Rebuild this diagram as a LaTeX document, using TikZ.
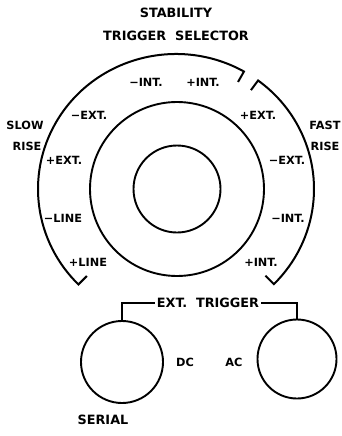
\documentclass[tikz,border=0pt]{standalone}
\usepackage{fontspec}
\setmainfont{DejaVu Sans}
\begin{document}
\begin{tikzpicture}[x=1pt,y=1pt,
	lbl/.style={font=\bfseries\fontsize{11.3}{13}\selectfont,inner sep=1pt},
	head/.style={font=\bfseries\fontsize{12.8}{15}\selectfont,inner sep=1pt},
	knob/.style={circle,draw,line width=1.9pt,inner sep=0pt},
	scalearc/.style={line width=2pt}]
	\useasboundingbox (0,0) rectangle (341,-436);
	% title
	\node [head] (stab) at (176,-13) {STABILITY};
	\node [head] (sel) at (176,-36) {TRIGGER~~SELECTOR};
	% main knob
	\node [knob,minimum size=87pt] (inner) at (177,-189) {};
	\node [knob,minimum size=174pt] (outer) at (177,-189) {};
	\coordinate (ctr) at (176,-189);
	% slow rise scale
	\draw [scalearc] ([shift={(ctr)}]60.5:126 and 123) -- ([shift={(ctr)}]60.5:138 and 135)
		arc [start angle=60.5,end angle=225,x radius=138,y radius=135]
		-- ([shift={(ctr)}]225:126 and 123);
	% fast rise scale
	\draw [scalearc] ([shift={(ctr)}]53.5:126 and 123) -- ([shift={(ctr)}]53.5:138 and 135)
		arc [start angle=53.5,end angle=-44.8,x radius=138,y radius=135]
		-- ([shift={(ctr)}]-44.8:126 and 123);
	% positions
	\node [lbl] (mint) at (146,-82) {−INT.};
	\node [lbl] (pint) at (203,-82) {+INT.};
	\node [lbl] (mext) at (89,-115) {−EXT.};
	\node [lbl] (pext) at (258,-115) {+EXT.};
	\node [lbl] (slow) at (25,-125) {SLOW};
	\node [lbl] (srise) at (27,-146) {RISE};
	\node [lbl] (fast) at (325,-125) {FAST};
	\node [lbl] (frise) at (325,-146) {RISE};
	\node [lbl] (sext) at (64,-160) {+EXT.};
	\node [lbl] (mline) at (63,-218) {−LINE};
	\node [lbl] (pline) at (88,-262) {+LINE};
	\node [lbl] (fext) at (287,-160) {−EXT.};
	\node [lbl] (fint) at (288,-218) {−INT.};
	\node [lbl] (fpint) at (261,-262) {+INT.};
	% ext. trigger knobs
	\node [knob,minimum size=82pt] (dc) at (122,-362) {};
	\node [knob,minimum size=79pt] (ac) at (297,-359) {};
	\node [head,inner sep=2pt] (trig) at (208,-303) {EXT.~~TRIGGER};
	\draw [line width=1.3pt] (trig.west) -| (dc.north);
	\draw [line width=1.3pt] (trig.east) -| (ac.north);
	\node [lbl] (dclbl) at (185,-362) {DC};
	\node [lbl] (aclbl) at (234,-362) {AC};
	\node [head] (serial) at (103,-420) {SERIAL};
\end{tikzpicture}
\end{document}
